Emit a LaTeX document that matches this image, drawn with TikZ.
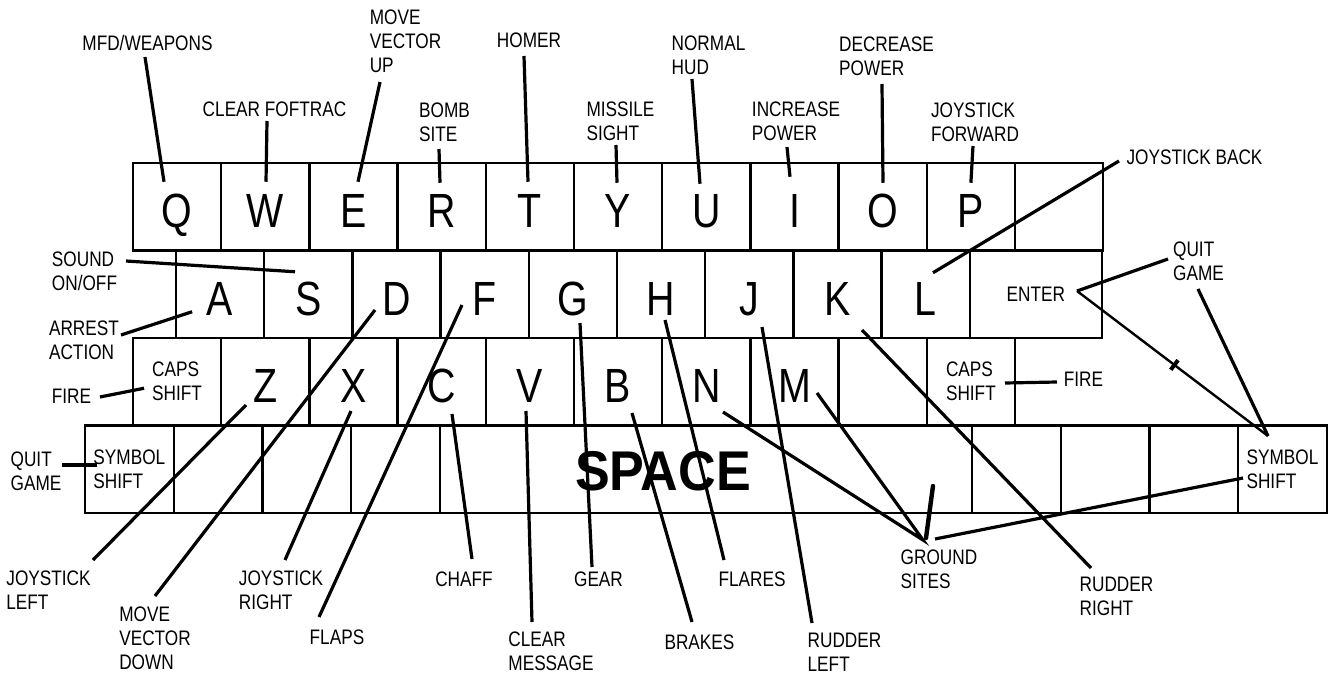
\documentclass[tikz,border=0pt]{standalone}
\usepackage{fontspec}
\setmainfont{Liberation Sans}[FakeStretch=0.82]
\newfontfamily\spacefont{Liberation Sans}[FakeStretch=0.93]
\newcommand\lblfont{\fontsize{10.5}{12}\selectfont}
\newcommand\keyfont{\fontsize{24}{24}\selectfont}
\tikzset{
  keybox/.style={draw,line width=1.2pt,minimum width=44.1pt,minimum height=43.75pt,
    inner sep=0pt,outer sep=0pt,font=\lblfont,align=left},
  letter/.style={keybox,font=\keyfont,text height=21pt,text depth=0pt},
  lbl/.style={font=\lblfont,align=left,inner sep=0pt},
  conn/.style={line width=1.6pt},
}

\begin{document}
\begin{tikzpicture}[x=0.5pt,y=-0.5pt]
\fill[white] (0,0) rectangle (1335,675);
% keyboard rows
\foreach \k [count=\i from 0] in {Q,W,E,R,T,Y,U,I,O,P}
  \node[letter] (k\k) at ({177.1+88.2*\i},206.75) {\k};
\node[keybox] (kBlankA) at (1059.1,206.75) {};
\foreach \k [count=\i from 0] in {A,S,D,F,G,H,J,K,L}
  \node[letter] (k\k) at ({220.1+88.2*\i},294.25) {\k};
\node[keybox,minimum width=66.1pt,align=center] (kEnter) at (1035.9,294.25) {ENTER};
\node[keybox] (kCapsL) at (177.1,381.75) {CAPS\\SHIFT};
\foreach \k [count=\i from 1] in {Z,X,C,V,B,N,M}
  \node[letter] (k\k) at ({177.1+88.2*\i},381.75) {\k};
\node[keybox] (kBlankB) at (882.7,381.75) {};
\node[keybox] (kCapsR) at (970.9,381.75) {CAPS\\SHIFT};
\node[keybox,minimum width=44.35pt] (kSymL) at (129.35,469.25) {SYMBOL\\SHIFT};
\foreach \x/\n in {218.05/C1,306.75/C2,395.45/C3,1016.35/C4,1105.05/C5,1193.75/C6}
  \node[keybox,minimum width=44.35pt] (kBlank\n) at (\x,469.25) {};
\node[keybox,minimum width=266.1pt] (kSpace) at (705.9,469.25) {};
\node[keybox,minimum width=44.35pt] (kSymR) at (1282.45,469.25) {SYMBOL\\SHIFT};
\node[inner sep=0pt,font={\spacefont\fontsize{28}{28}\selectfont\bfseries}] (spacetxt) at (663,471.5) {SPACE};

% labels
\node[lbl] (mfd) at (147.5,42.5) {MFD/WEAPONS};
\node[lbl] (foftrac) at (274.5,109.5) {CLEAR FOFTRAC};
\node[lbl] (mvup) at (405.5,41.5) {MOVE\\VECTOR\\UP};
\node[lbl] (bomb) at (444.5,122) {BOMB\\SITE};
\node[lbl] (homer) at (529,40.5) {HOMER};
\node[lbl] (missile) at (620.5,121.5) {MISSILE\\SIGHT};
\node[lbl] (hud) at (708.5,55) {NORMAL\\HUD};
\node[lbl] (incr) at (796,121.5) {INCREASE\\POWER};
\node[lbl] (decr) at (886.5,56) {DECREASE\\POWER};
\node[lbl] (jfwd) at (975,122) {JOYSTICK\\FORWARD};
\node[lbl] (jback) at (1194.5,157.5) {JOYSTICK BACK};
\node[lbl] (sound) at (84.5,271) {SOUND\\ON/OFF};
\node[lbl] (arrest) at (84,340.5) {ARREST\\ACTION};
\node[lbl] (fireL) at (71.5,396.5) {FIRE};
\node[lbl] (quitL) at (36,471.5) {QUIT\\GAME};
\node[lbl] (jleft) at (48.5,590.5) {JOYSTICK\\LEFT};
\node[lbl] (mvdown) at (155,638) {MOVE\\VECTOR\\DOWN};
\node[lbl] (jright) at (281,590.5) {JOYSTICK\\RIGHT};
\node[lbl] (flaps) at (337,637.5) {FLAPS};
\node[lbl] (chaff) at (464,579.5) {CHAFF};
\node[lbl] (clrmsg) at (551,651.5) {CLEAR\\MESSAGE};
\node[lbl] (gear) at (598.5,579.5) {GEAR};
\node[lbl] (brakes) at (699.5,642.5) {BRAKES};
\node[lbl] (flares) at (752,579.5) {FLARES};
\node[lbl] (rudL) at (844.5,652.5) {RUDDER\\LEFT};
\node[lbl] (rudR) at (1116.5,596.5) {RUDDER\\RIGHT};
\node[lbl] (ground) at (939,569) {GROUND\\SITES};
\node[lbl] (quitR) at (1198.5,261) {QUIT\\GAME};
\node[lbl] (fireR) at (1083.5,379) {FIRE};

% top row connectors
\draw[conn] ([shift={(-2.5,14.5)}]mfd.center) -- ([shift={(-13.1,-25)}]kQ.center);
\draw[conn] ([shift={(-7.5,11.5)}]foftrac.center) -- ([shift={(0.7,-25)}]kW.center);
\draw[conn] ([shift={(-25.5,40.5)}]mvup.center) -- ([shift={(4.5,-25)}]kE.center);
\draw[conn] ([shift={(-5.5,27)}]bomb.center) -- ([shift={(-1.7,-24)}]kR.center);
\draw[conn] ([shift={(-5,15.5)}]homer.center) -- ([shift={(-1.9,-25)}]kT.center);
\draw[conn] ([shift={(-4.5,23.5)}]missile.center) -- ([shift={(-1.1,-24)}]kY.center);
\draw[conn] ([shift={(-16.5,24)}]hud.center) -- ([shift={(-6.3,-23)}]kU.center);
\draw[conn] ([shift={(-9,25.5)}]incr.center) -- ([shift={(-4.5,-30)}]kI.center);
\draw[conn] ([shift={(-4.5,28)}]decr.center) -- ([shift={(0.3,-24)}]kO.center);
\draw[conn] ([shift={(-2,24)}]jfwd.center) -- ([shift={(0,-24)}]kP.center);
\draw[conn] ([shift={(-75.5,3.5)}]jback.center) -- ([shift={(7.3,-21.5)}]kL.center);

% left side
\draw[conn] ([shift={(41.5,-10)}]sound.center) -- ([shift={(-13.3,-22.5)}]kS.center);
\draw[conn] ([shift={(37,-5.5)}]arrest.center) -- ([shift={(-28,17.5)}]kA.center);
\draw[conn] ([shift={(28.5,0.5)}]fireL.center) -- ([shift={(-33,6.5)}]kCapsL.center);
\draw[conn] ([shift={(26,-6.5)}]quitL.center) -- ([shift={(-32.35,-4.25)}]kSymL.center);

% bottom connectors
\draw[conn] ([shift={(44.5,-30.5)}]jleft.center) -- ([shift={(-19.3,23.25)}]kZ.center);
\draw[conn] ([shift={(0,-42)}]mvdown.center) -- ([shift={(-21.5,15.75)}]kD.center);
\draw[conn] ([shift={(4,-30.5)}]jright.center) -- ([shift={(-2.5,29.25)}]kX.center);
\draw[conn] ([shift={(-18,-20.5)}]flaps.center) -- ([shift={(-22.7,10.75)}]kF.center);
\draw[conn] ([shift={(8,-20.5)}]chaff.center) -- ([shift={(10.3,32.25)}]kC.center);
\draw[conn] ([shift={(-19,-29.5)}]clrmsg.center) -- ([shift={(-3.9,29.25)}]kV.center);
\draw[conn] ([shift={(-6.5,-12.5)}]gear.center) -- ([shift={(7.1,28.75)}]kG.center);
\draw[conn] ([shift={(-7.5,-20.5)}]brakes.center) -- ([shift={(13.9,31.25)}]kB.center);
\draw[conn] ([shift={(-28,-19.5)}]flares.center) -- ([shift={(3.9,25.75)}]kH.center);
\draw[conn] ([shift={(-32.5,-29.5)}]rudL.center) -- ([shift={(12.7,32.75)}]kJ.center);
\draw[conn] ([shift={(-25.5,-28.5)}]rudR.center) -- ([shift={(24.5,35.75)}]kK.center);

% ground sites
\coordinate (gs) at ([shift={(-16,-29)}]ground.center);
\draw[conn] ([shift={(16.7,30.25)}]kN.center) -- (gs) -- ([shift={(22.5,11.25)}]kM.center);
\draw[line width=2.2pt,line cap=round] ([shift={(-6,-83)}]ground.center) -- ([shift={(-13,-31)}]ground.center);
\draw[conn] ([shift={(-4,-30)}]ground.center) -- ([shift={(-39.45,8.75)}]kSymR.center);

% right side
\draw[conn] ([shift={(-30.5,-2)}]quitR.center) -- ([shift={(41.1,-3.25)}]kEnter.center) coordinate (ent);
\draw[line width=1.2pt] (ent) -- node[pos=0.51,sloped,fill,inner sep=0pt,minimum width=2pt,minimum height=6pt] (tk) {}
  ([shift={(-14.45,-33.25)}]kSymR.center) coordinate (sy);
\draw[conn] ([shift={(-0.5,28)}]quitR.center) -- (sy);
\draw[conn] ([shift={(34.1,1.25)}]kCapsR.center) -- ([shift={(-26.5,3)}]fireR.center);
\end{tikzpicture}
\end{document}
